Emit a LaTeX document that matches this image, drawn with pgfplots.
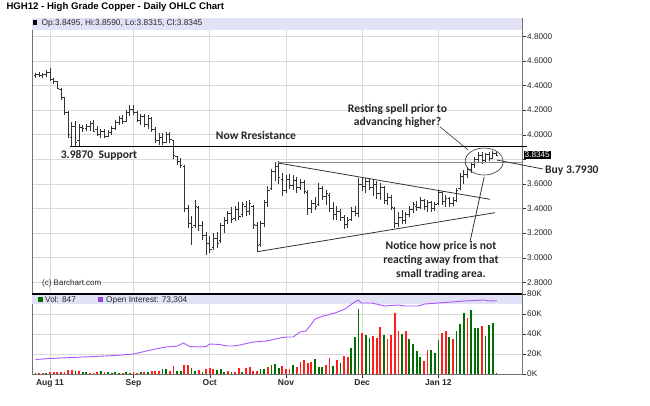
\documentclass[border=0pt]{standalone}
\usepackage{pgfplots}
\pgfplotsset{compat=1.18}
\usepackage{pgfplotstable}
\usepackage{fontspec}
\setmainfont{Liberation Sans}
\newfontfamily\calib{Carlito}
\definecolor{volred}{RGB}{255,30,30}
\definecolor{volgreen}{RGB}{0,110,0}
\definecolor{oipurple}{RGB}{170,85,255}
\definecolor{band}{RGB}{226,226,246}
\definecolor{gridc}{RGB}{218,218,218}

\pgfdeclareplotmark{otick}{\pgfpathmoveto{\pgfqpoint{-1.8pt}{0pt}}\pgfpathlineto{\pgfqpoint{0pt}{0pt}}\pgfusepathqstroke}
\pgfdeclareplotmark{ctick}{\pgfpathmoveto{\pgfqpoint{0pt}{0pt}}\pgfpathlineto{\pgfqpoint{1.8pt}{0pt}}\pgfusepathqstroke}

\pgfplotstableread{
i o h l c
-4 4.48 4.50 4.46 4.49
-3 4.49 4.51 4.47 4.48
-2 4.48 4.50 4.46 4.49
-1 4.49 4.53 4.47 4.51
0 4.51 4.54 4.44 4.45
1 4.45 4.46 4.41 4.43
2 4.43 4.44 4.37 4.38
3 4.37 4.38 4.28 4.30
4 4.30 4.31 4.16 4.18
5 4.18 4.19 3.97 4.00
6 3.98 4.10 3.90 4.07
7 4.07 4.11 3.90 3.94
8 3.95 4.09 3.90 4.06
9 4.06 4.08 4.02 4.05
10 4.05 4.09 4.03 4.07
11 4.07 4.11 4.03 4.09
12 4.09 4.12 4.02 4.03
13 4.04 4.07 3.99 4.00
14 4.00 4.05 3.97 4.03
15 4.03 4.05 3.97 3.99
16 3.99 4.04 3.98 4.02
17 4.02 4.07 4.00 4.05
18 4.05 4.12 4.04 4.10
19 4.10 4.15 4.08 4.13
20 4.13 4.16 4.09 4.11
21 4.11 4.20 4.10 4.18
22 4.18 4.24 4.15 4.21
23 4.21 4.24 4.16 4.18
24 4.18 4.19 4.10 4.12
25 4.12 4.17 4.08 4.15
26 4.15 4.17 4.06 4.08
27 4.08 4.16 4.05 4.13
28 4.13 4.14 4.02 4.04
29 4.04 4.06 3.93 3.95
30 3.95 4.01 3.92 3.98
31 3.98 4.01 3.92 3.94
32 3.94 4.02 3.93 4.00
33 4.00 4.02 3.93 3.96
34 3.95 3.96 3.80 3.83
35 3.82 3.83 3.75 3.78
36 3.78 3.81 3.73 3.75
37 3.74 3.75 3.37 3.40
38 3.40 3.43 3.24 3.28
39 3.28 3.34 3.10 3.25
40 3.26 3.47 3.24 3.42
41 3.41 3.42 3.22 3.26
42 3.26 3.30 3.14 3.18
43 3.18 3.21 3.02 3.12
44 3.12 3.18 3.04 3.07
45 3.08 3.20 3.06 3.16
46 3.16 3.21 3.08 3.12
47 3.14 3.28 3.12 3.26
48 3.26 3.33 3.20 3.30
49 3.30 3.38 3.27 3.36
50 3.36 3.41 3.28 3.31
51 3.32 3.42 3.30 3.39
52 3.39 3.45 3.31 3.34
53 3.35 3.45 3.33 3.43
54 3.42 3.46 3.34 3.38
55 3.38 3.47 3.35 3.44
56 3.42 3.43 3.23 3.27
57 3.26 3.29 3.05 3.10
58 3.11 3.30 3.09 3.28
59 3.28 3.47 3.25 3.45
60 3.45 3.58 3.41 3.55
61 3.56 3.72 3.55 3.70
62 3.70 3.78 3.62 3.74
63 3.74 3.79 3.60 3.65
64 3.64 3.69 3.50 3.55
65 3.55 3.67 3.53 3.64
66 3.64 3.68 3.56 3.59
67 3.59 3.67 3.55 3.63
68 3.63 3.66 3.53 3.57
69 3.57 3.64 3.55 3.61
70 3.61 3.63 3.52 3.54
71 3.53 3.55 3.35 3.40
72 3.40 3.47 3.36 3.44
73 3.44 3.49 3.39 3.42
74 3.43 3.61 3.42 3.56
75 3.56 3.58 3.47 3.50
76 3.50 3.55 3.43 3.52
77 3.51 3.53 3.37 3.40
78 3.40 3.45 3.31 3.35
79 3.35 3.42 3.31 3.38
80 3.38 3.40 3.30 3.33
81 3.33 3.35 3.23 3.27
82 3.27 3.33 3.24 3.30
83 3.31 3.41 3.30 3.38
84 3.38 3.42 3.34 3.36
85 3.36 3.65 3.33 3.60
86 3.60 3.66 3.54 3.58
87 3.58 3.65 3.53 3.62
88 3.62 3.65 3.55 3.57
89 3.57 3.63 3.50 3.60
90 3.60 3.62 3.48 3.52
91 3.52 3.61 3.47 3.57
92 3.57 3.58 3.44 3.47
93 3.47 3.53 3.43 3.49
94 3.49 3.51 3.39 3.41
95 3.40 3.41 3.24 3.28
96 3.28 3.37 3.25 3.33
97 3.33 3.39 3.27 3.30
98 3.30 3.37 3.27 3.35
99 3.35 3.42 3.33 3.39
100 3.39 3.45 3.36 3.43
101 3.42 3.46 3.38 3.41
102 3.41 3.49 3.40 3.47
103 3.47 3.48 3.39 3.42
104 3.42 3.47 3.37 3.45
105 3.45 3.46 3.37 3.40
106 3.40 3.45 3.38 3.43
107 3.44 3.55 3.43 3.53
108 3.53 3.54 3.43 3.46
109 3.46 3.51 3.41 3.48
110 3.48 3.49 3.41 3.44
111 3.44 3.49 3.42 3.47
112 3.47 3.57 3.45 3.55
113 3.56 3.69 3.55 3.66
114 3.66 3.71 3.60 3.68
115 3.68 3.74 3.65 3.72
116 3.72 3.78 3.69 3.76
117 3.76 3.82 3.73 3.80
118 3.80 3.86 3.77 3.83
119 3.83 3.86 3.76 3.79
120 3.79 3.85 3.77 3.84
121 3.84 3.86 3.79 3.81
122 3.81 3.87 3.80 3.85
123 3.8495 3.859 3.8315 3.8345
}\ohlc

\pgfplotstableread{
i v
-3 1
-2 1
0 1.5
1 1.5
2 2
3 2
4 1.5
5 4
6 4
8 3
11 1
12 1
13 2
15 2
20 1
23 1.5
24 1
26 1.5
28 3
29 3
30 3
33 3
34 8
37 9
38 9
41 4
43 5
44 6
45 5
49 3
51 2
52 6
54 6
55 7
56 3
57 3
60 7
64 8
65 5
66 5
68 7
69 12
70 14
71 11
72 12
76 9
77 16
79 14
81 18
82 17
86 41
89 38
90 36
91 47
93 35
94 39
95 61
96 43
98 43
103 13
104 24
108 41
109 43
111 35
115 56
119 48
}\volred

\pgfplotstableread{
i v
-4 1
-1 1
7 3
9 1.5
10 2
14 2.5
16 1.5
17 1
18 1.5
19 1
21 1.5
22 1
25 2
27 2
31 5
32 5
35 3
36 3
39 6
40 3
42 2
46 4
47 5
48 2
50 2
53 2
58 5
59 5
61 9
62 10
63 6
67 9
73 15
74 7
75 7
78 8
80 11
83 26
84 37
85 65
87 39
88 36
92 39
97 40
99 35
100 30
101 23
102 17
105 24
106 21
107 34
110 37
112 43
113 50
114 61
116 64
117 46
118 46
120 38
121 49
122 51
123 0.85
}\volgreen

\pgfplotstableread{
i oi
-4 14.5
0 15.5
5 16.3
9 17
14 17.8
18 18.5
23 20
26 22.5
29 25
32 27
35 27.8
36.7 31
38.5 27.5
41 27
43 27.5
44 30
46.8 29.5
48.7 28
50.5 28
52.3 29
56 32
59.7 33
63.4 36
65.2 37
67 37
68.9 42
70.5 43
71.6 48
73 55
75.3 58
78.5 61
81.3 65
83.1 70
84.9 74
85.8 71
88.6 71
92.3 68
95.9 69
97.8 68
101.4 68
103.3 70
106.9 71
110.6 72
114.3 73
119.8 74
120.8 73
123.1 73.3
}\oidata

\begin{document}
\begin{tikzpicture}
\fill[white] (0pt,0pt) rectangle (650pt,406pt);
\useasboundingbox (0pt,0pt) rectangle (650pt,406pt);

% ---------------- price panel ----------------
\begin{axis}[
  at={(32pt,113pt)}, anchor=south west,
  scale only axis, width=490pt, height=275pt,
  xmin=-4.96, xmax=130.03, ymin=2.713, ymax=4.949,
  clip=false,
  axis line style={black!55},
  xtick={0,23,44,65,86,107}, xticklabels={},
  xtick style={draw=none},
  ytick={2.8,3,3.2,3.4,3.6,3.8,4,4.2,4.4,4.6,4.8},
  yticklabels={2.8000,3.0000,3.2000,3.4000,3.6000,,4.0000,4.2000,4.4000,4.6000,4.8000},
  ytick pos=right, yticklabel pos=right,
  tick align=outside, major tick length=4pt,
  y tick style={black!80},
  grid=major, major grid style={gridc, line width=0.5pt},
  yticklabel style={font=\fontsize{8.2}{9}\selectfont, text=black!85, inner sep=1pt},
]
\fill[band] (rel axis cs:0,1) rectangle (rel axis cs:1,0.956);
% high-low
\addplot [draw=none, mark=none, forget plot,
  error bars/.cd, y dir=plus, y explicit, error mark=none,
  error bar style={draw=black!80, line width=0.75pt}]
  table [x=i, y=l, y error expr=\thisrow{h}-\thisrow{l}] {\ohlc};
\addplot [only marks, mark=otick, mark options={draw=black!80, line width=0.75pt}] table [x=i, y=o] {\ohlc};
\addplot [only marks, mark=ctick, mark options={draw=black!80, line width=0.75pt}] table [x=i, y=c] {\ohlc};
% annotation lines
\addplot [black, line width=0.8pt, mark=none] coordinates {(5.5,3.904) (131.4,3.904)};
\addplot [black!45, line width=1.3pt, mark=none] coordinates {(62.8,3.772) (130.03,3.772)};
\addplot [black!80, line width=0.8pt, mark=none] coordinates {(62.8,3.77) (121.2,3.475)};
\addplot [black!80, line width=0.8pt, mark=none] coordinates {(57.3,3.05) (122.6,3.366)};
\addplot [black!80, line width=0.6pt, mark=none] coordinates {(107.4,4.065) (115.2,3.876)};
\addplot [black!80, line width=0.8pt, mark=none] coordinates {(123.1,3.794) (135.8,3.721)};
\addplot [black!80, line width=0.8pt, mark=none] coordinates {(115.7,3.128) (119.6,3.656)};
\draw[black!80, line width=0.6pt] (axis cs:119.6,3.782) ellipse [x radius=19pt, y radius=13.5pt];
\node[anchor=west, fill=black, text=white, inner sep=0.8pt, font=\fontsize{8.2}{9}\selectfont] at (axis cs:130.5,3.8345) {3.8345};
\end{axis}

% ---------------- volume panel ----------------
\begin{axis}[
  at={(32pt,32pt)}, anchor=south west,
  scale only axis, width=490pt, height=80pt,
  xmin=-4.96, xmax=130.03, ymin=0, ymax=80,
  axis line style={black!55},
  xtick={0,23,44,65,86,107},
  xticklabels={Aug 11,Sep,Oct,Nov,Dec,Jan 12},
  xticklabel style={font=\fontsize{8.5}{9}\selectfont\bfseries, text=black!85, inner sep=1.5pt},
  ytick={0,20,40,60,80}, yticklabels={0K,20K,40K,60K,80K},
  yticklabel style={font=\fontsize{8.2}{9}\selectfont, text=black!85, inner sep=1pt},
  ytick pos=right, yticklabel pos=right, xtick pos=bottom,
  tick align=outside, major tick length=4pt,
  tick style={black!80},
  grid=major, major grid style={gridc, line width=0.5pt},
]
\fill[band] (rel axis cs:0,1) rectangle (rel axis cs:1,0.869);
\addplot [ycomb, draw=volred, line width=1.8pt, mark=none] table [x=i, y=v] {\volred};
\addplot [ycomb, draw=volgreen, line width=1.8pt, mark=none] table [x=i, y=v] {\volgreen};
\addplot [oipurple, line width=0.9pt, mark=none] table [x=i, y=oi] {\oidata};
\end{axis}

% separator between panels
\draw[black, line width=2pt] (32pt,111.5pt) -- (522pt,111.5pt);

% texts
\node[anchor=west, font=\fontsize{9.6}{11}\selectfont\bfseries] at (3pt,399pt) {HGH12 - High Grade Copper - Daily OHLC Chart};
\fill[black] (32.5pt,381pt) rectangle (37pt,385.5pt);
\node[anchor=west, inner sep=0pt, font=\fontsize{8.3}{9}\selectfont, text=black!85] at (41.5pt,383pt) {Op:3.8495, Hi:3.8590, Lo:3.8315, Cl:3.8345};
\fill[volgreen] (37.5pt,103.5pt) rectangle (43pt,109pt);
\node[anchor=west, inner sep=0pt, font=\fontsize{8.3}{9}\selectfont, text=black!85] at (45pt,106pt) {Vol: 847};
\fill[oipurple!85!black] (97.5pt,103.5pt) rectangle (103pt,109pt);
\node[anchor=west, inner sep=0pt, font=\fontsize{8.3}{9}\selectfont, text=black!85] at (106pt,106pt) {Open Interest: 73,304};
\node[anchor=west, inner sep=0pt, font=\fontsize{8}{9}\selectfont, text=black!85] at (42pt,123pt) {(c) Barchart.com};

\node[font=\calib\fontsize{11.6}{12.5}\selectfont\bfseries, text=black!85] at (256pt,271pt) {Now Rresistance};
\node[font=\calib\fontsize{11.6}{12.5}\selectfont\bfseries, text=black!85] at (99pt,251pt) {3.9870\ \ Support};
\node[align=center, font=\calib\fontsize{11.6}{12.5}\selectfont\bfseries, text=black!85] at (397.5pt,290pt) {Resting spell prior to\\advancing higher?};
\node[anchor=west, inner sep=0pt, font=\calib\fontsize{11.6}{12.5}\selectfont\bfseries, text=black!85] at (545pt,235pt) {Buy 3.7930};
\node[align=center, font=\calib\fontsize{11.6}{14}\selectfont\bfseries, text=black!85] at (441pt,146pt) {Notice how price is not\\reacting away from that\\small trading area.};
\end{tikzpicture}
\end{document}
